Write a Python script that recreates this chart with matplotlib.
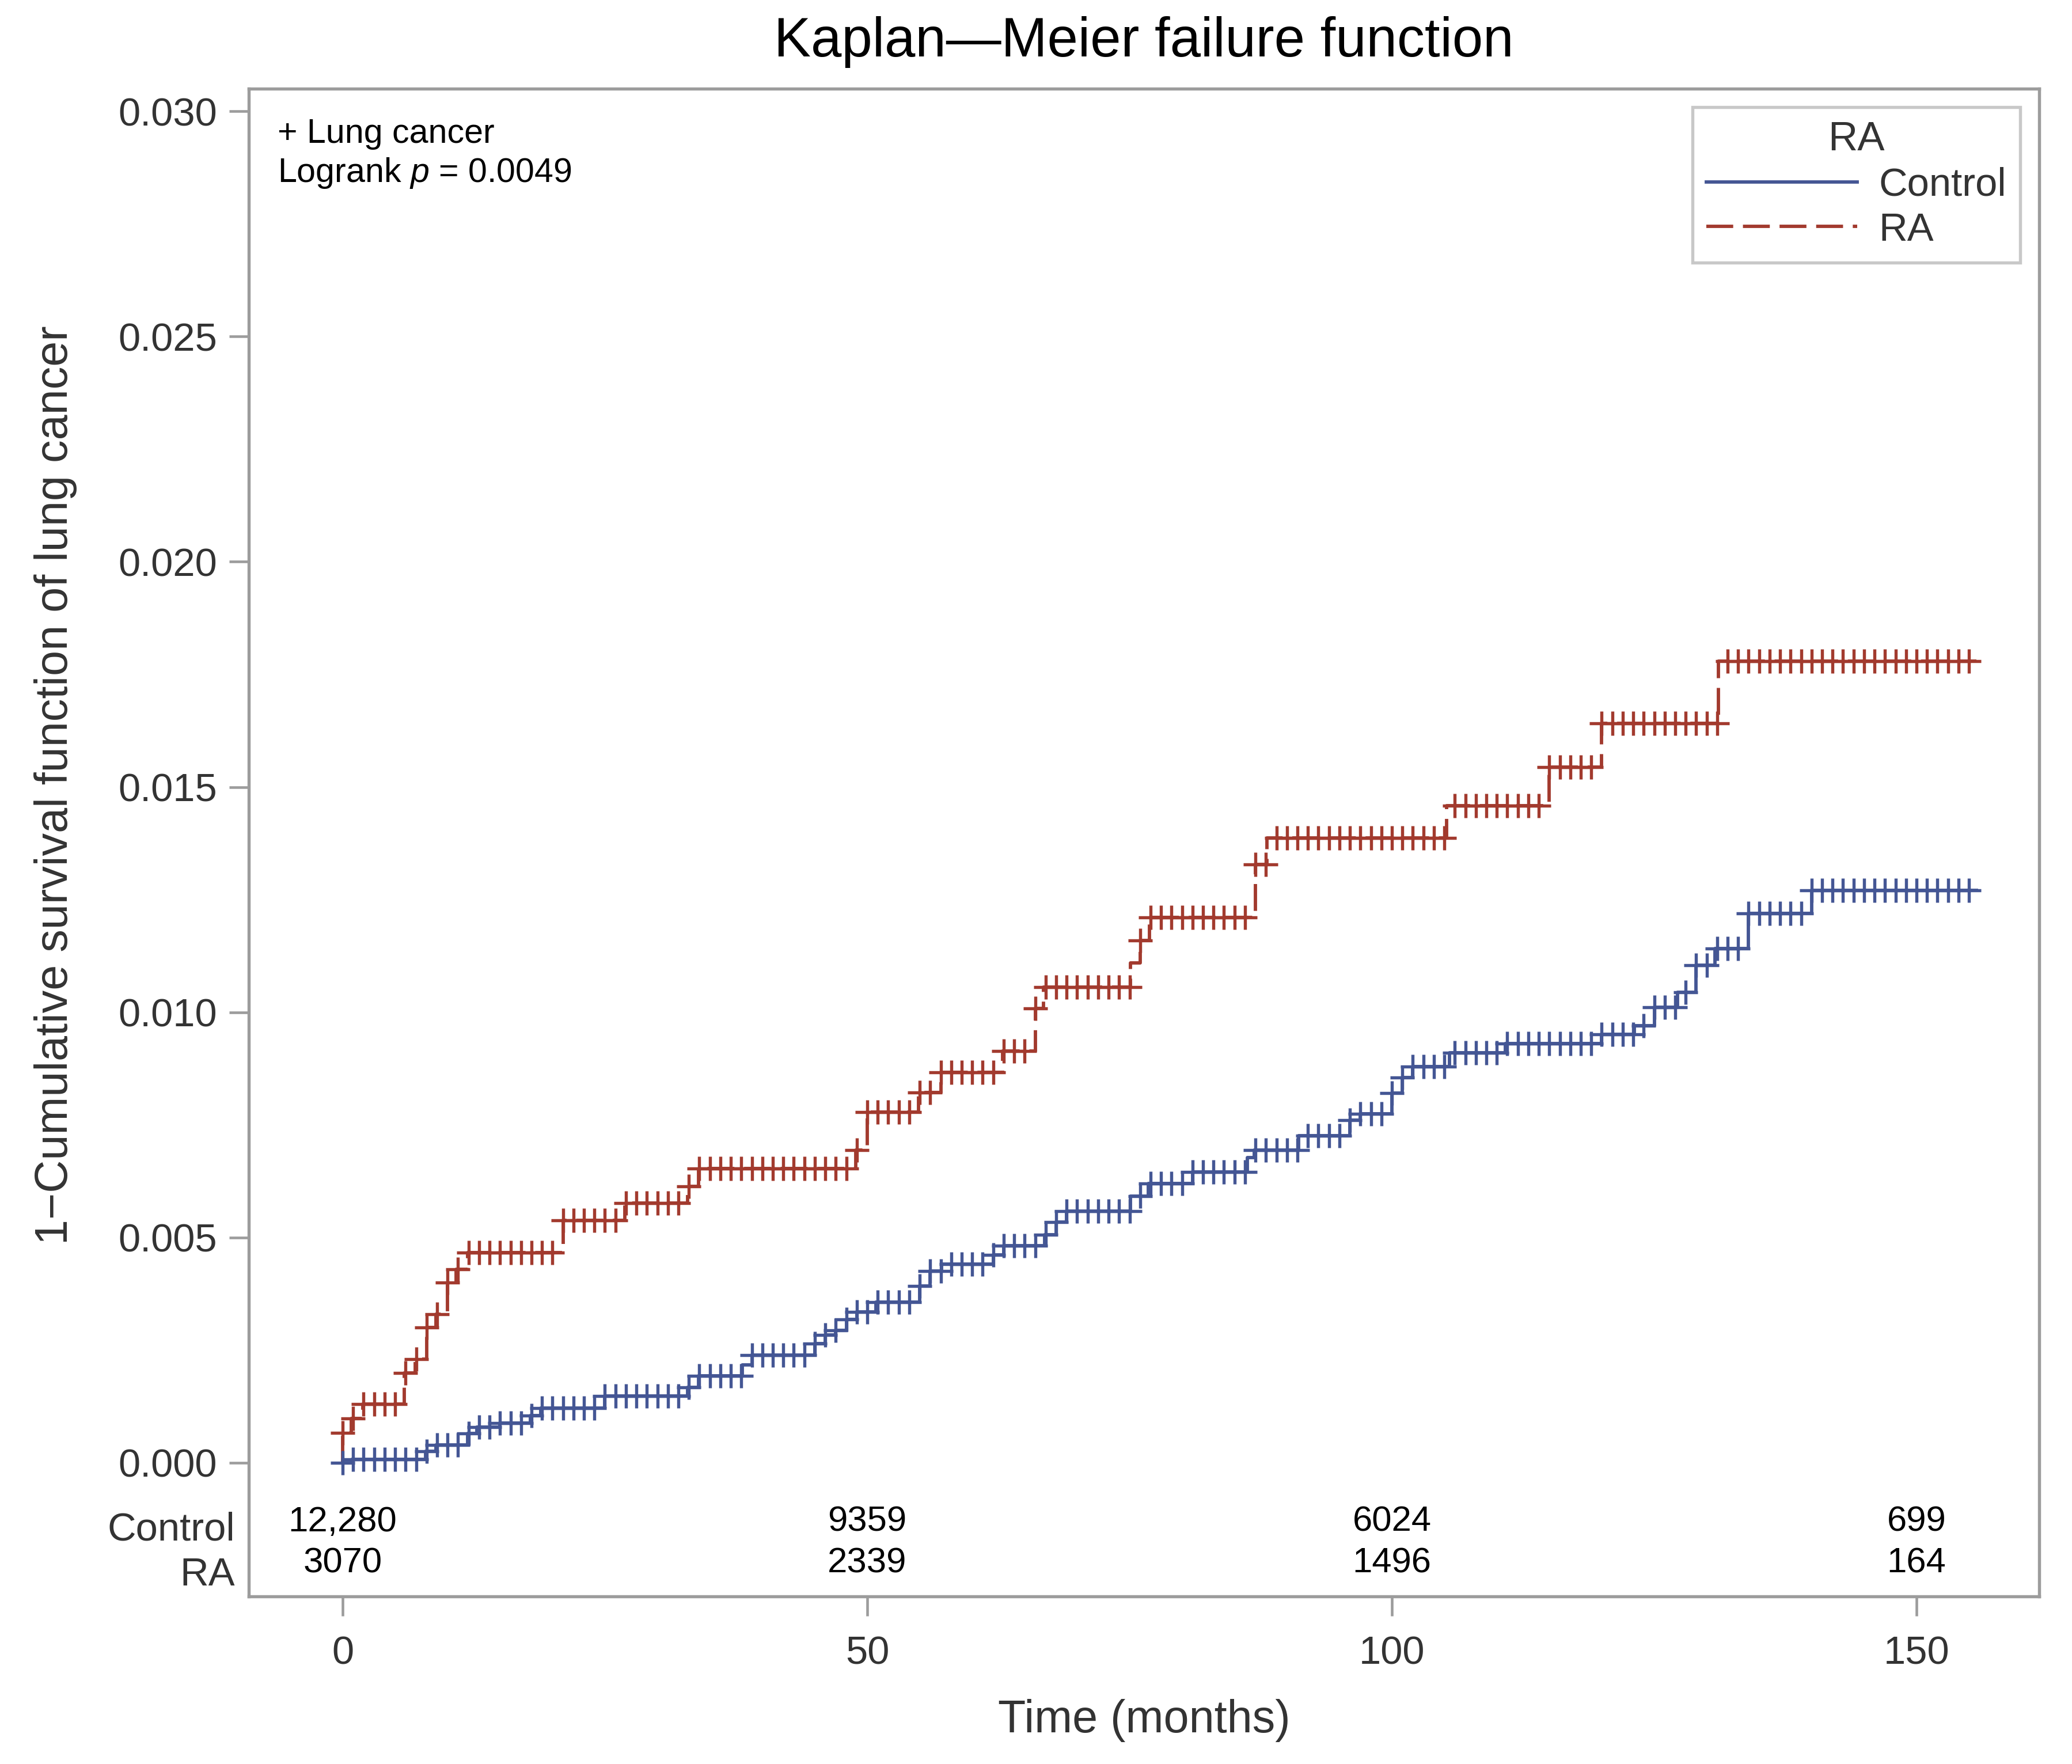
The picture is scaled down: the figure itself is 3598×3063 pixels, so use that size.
import numpy as np
import matplotlib
matplotlib.use("Agg")
import matplotlib.pyplot as plt
from matplotlib.lines import Line2D
from matplotlib.transforms import blended_transform_factory

plt.rcParams['font.family'] = ['Liberation Sans', 'DejaVu Sans']
plt.rcParams['mathtext.fontset'] = 'custom'
plt.rcParams['mathtext.it'] = 'Liberation Sans:italic'
plt.rcParams['mathtext.rm'] = 'Liberation Sans'

# --- datos ---
control_t = [0, 0.9, 7.9, 8.9, 11.9, 12.8, 15.0, 17.9, 18.9, 25.0, 32.9, 33.9,
             38.1, 39.0, 45.0, 46.0, 47.0, 48.0, 49.0, 50.8, 55.0, 56.0, 57.1,
             62.0, 63.0, 66.9, 68.0, 69.0, 75.1, 76.8, 81.0, 86.2, 86.9, 91.1,
             96.0, 97.0, 100.0, 101.0, 102.0, 105.5, 110.8, 120.0, 123.1, 125.0,
             127.2, 129.0, 130.8, 134.0, 140.0, 155.7]
control_y = [0.0, 0.00008, 0.00025, 0.00040, 0.00065, 0.00079, 0.00088, 0.00105,
             0.00121, 0.00148, 0.00168, 0.00193, 0.00217, 0.00239, 0.00265,
             0.00284, 0.00294, 0.00318, 0.00335, 0.00356, 0.00393, 0.00425,
             0.00441, 0.00462, 0.00482, 0.00506, 0.00534, 0.00559, 0.00592,
             0.00620, 0.00645, 0.00678, 0.00694, 0.00726, 0.00760, 0.00775,
             0.00820, 0.00855, 0.00880, 0.00910, 0.00930, 0.00951, 0.00970,
             0.01011, 0.01044, 0.01105, 0.01142, 0.01219, 0.01270, 0.01270]

ra_t = [0, 0, 0.8, 1.9, 5.9, 6.9, 8.0, 8.9, 10.0, 10.8, 11.9, 21.0, 26.9, 32.9,
        33.9, 48.9, 50.0, 54.9, 57.0, 62.9, 66.0, 66.8, 75.1, 76.0, 76.9, 87.0,
        88.1, 105.2, 115.0, 120.0, 131.1, 155.7]
ra_y = [0.0, 0.00066, 0.00099, 0.00130, 0.00200, 0.00230, 0.00300, 0.00330,
        0.00400, 0.00430, 0.00467, 0.00538, 0.00576, 0.00613, 0.00653, 0.00694,
        0.00779, 0.00822, 0.00867, 0.00914, 0.01008, 0.01056, 0.01109, 0.01159,
        0.01211, 0.01328, 0.01387, 0.01458, 0.01544, 0.01641, 0.01779, 0.01779]

# marcas de censura: una por mes
censor_months = list(range(0, 156))

risk_times = [0, 50, 100, 150]
risk_control = ["12,280", "9359", "6024", "699"]
risk_ra = ["3070", "2339", "1496", "164"]

yticks = [0.000, 0.005, 0.010, 0.015, 0.020, 0.025, 0.030]
xticks = [0, 50, 100, 150]

c_blue = '#445694'
c_red = '#A23A2E'
c_gray = '#9c9c9c'
c_text = '#333333'


def valor_en(tiempos, valores, t):
    i = np.searchsorted(np.array(tiempos), t + 1e-6, side='right') - 1
    return valores[i]


fig = plt.figure(figsize=(3598 / 300, 3063 / 300), dpi=300)
ax = fig.add_axes([432 / 3598, 1 - 2772 / 3063, 3109 / 3598, 2618 / 3063])

ra_dash = (0, (8.0, 2.9))
ax.step(control_t, control_y, where='post', color=c_blue, lw=1.4)
ax.step(ra_t, ra_y, where='post', color=c_red, lw=1.4, linestyle=ra_dash)

cy = [valor_en(control_t, control_y, t) for t in censor_months]
ry = [valor_en(ra_t, ra_y, t) for t in censor_months]
ax.plot(censor_months, cy, linestyle='none', marker='+', ms=10, mew=1.3, color=c_blue)
ax.plot(censor_months, ry, linestyle='none', marker='+', ms=10, mew=1.3, color=c_red)

ax.set_xlim(-8.946, 161.69)
ax.set_ylim(-0.002966, 0.030499)
ax.set_xticks(xticks)
ax.set_yticks(yticks)
ax.set_yticklabels([f"{v:.3f}" for v in yticks])
ax.tick_params(axis='both', colors=c_gray, labelcolor=c_text, labelsize=16.5,
               length=8.2, width=1.1)
ax.tick_params(axis='x', pad=8)
ax.tick_params(axis='y', pad=5)
for s in ax.spines.values():
    s.set_color(c_gray)
    s.set_linewidth(1.3)

ax.set_xlabel("Time (months)", fontsize=19, color=c_text)
ax.xaxis.set_label_coords(0.5, -0.0825)
ax.xaxis.label.set_va('center')
ax.set_ylabel("1\u2212Cumulative survival function of lung cancer", fontsize=19, color=c_text)
ax.yaxis.set_label_coords(-0.108, 0.538)
ax.yaxis.label.set_va('center')

ax.set_title("Kaplan\u2014Meier failure function", fontsize=23, color='black',
             y=1.0309, pad=0, va='center')

ax.text(0.0161, 0.9702, "+ Lung cancer", transform=ax.transAxes, fontsize=14.2,
        color='black', va='center', ha='left')
ax.text(0.0161, 0.9439, r"Logrank $\it{p}$ = 0.0049", transform=ax.transAxes,
        fontsize=14.2, color='black', va='center', ha='left')

# tabla de sujetos en riesgo
for t, nc, nr in zip(risk_times, risk_control, risk_ra):
    ax.text(t, -0.00132, nc, fontsize=14.8, ha='center', va='center', color='black')
    ax.text(t, -0.00224, nr, fontsize=14.8, ha='center', va='center', color='black')
trans = blended_transform_factory(ax.transAxes, ax.transData)
ax.text(-0.0077, -0.0014955, "Control", transform=trans, ha='right', va='center',
        fontsize=16.5, color=c_text, clip_on=False)
ax.text(-0.0077, -0.002493, "RA", transform=trans, ha='right', va='center',
        fontsize=16.5, color=c_text, clip_on=False)

handles = [Line2D([], [], color=c_blue, lw=1.4),
           Line2D([], [], color=c_red, lw=1.4, linestyle=ra_dash)]
leg = ax.legend(handles, ["Control", "RA"], title="RA", loc='upper right',
                bbox_to_anchor=(3508 / 3598, 1 - 186 / 3063),
                bbox_transform=fig.transFigure, borderaxespad=0,
                fontsize=16.5, title_fontsize=17, handlelength=3.8,
                handletextpad=0.55, labelspacing=0.2, borderpad=0.35,
                fancybox=False, framealpha=1)
leg.get_frame().set_edgecolor('#c8c8c8')
leg.get_frame().set_linewidth(1.3)
for txt in leg.get_texts():
    txt.set_color(c_text)
leg.get_title().set_color(c_text)

fig.savefig("out.png", dpi=300)
